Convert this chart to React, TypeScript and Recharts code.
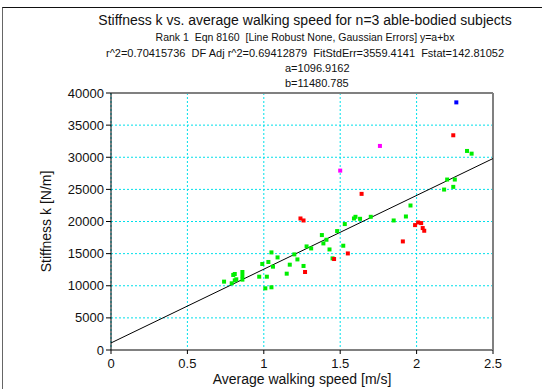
import React from 'react';
import { ScatterChart, Scatter, XAxis, YAxis, CartesianGrid, ReferenceLine } from 'recharts';

// fit coefficients y = a + b*x
const FIT_A = 1096.9162;
const FIT_B = 11480.785;

const xTicks = [0, 0.5, 1, 1.5, 2, 2.5];
const yTicks = [0, 5000, 10000, 15000, 20000, 25000, 30000, 35000, 40000];

const greenSpeed = [0.74, 0.79, 0.80, 0.81, 0.81, 0.82, 0.86, 0.86, 0.86, 0.97, 0.99, 1.02, 1.01, 1.05, 1.03, 1.05, 1.06, 1.09, 1.15, 1.17, 1.20, 1.22, 1.26, 1.28, 1.31, 1.38, 1.41, 1.39, 1.43, 1.45, 1.48, 1.52, 1.53, 1.59, 1.60, 1.63, 1.70, 1.85, 1.93, 1.96, 2.18, 2.20, 2.24, 2.25, 2.33, 2.36];
const greenStiff = [10640, 10380, 11680, 11830, 10840, 11000, 12140, 11520, 10950, 11410, 13390, 11410, 9600, 9760, 13700, 15190, 12970, 14410, 11880, 13280, 14880, 14100, 13080, 16120, 15810, 17890, 17160, 16590, 15650, 14260, 18510, 16230, 19600, 20470, 20730, 20420, 20730, 20160, 20780, 22490, 24970, 26530, 25390, 26530, 30980, 30560];

const redSpeed = [1.24, 1.26, 1.27, 1.46, 1.55, 1.64, 1.91, 1.99, 2.01, 2.03, 2.04, 2.05, 2.24];
const redStiff = [20470, 20160, 12140, 14160, 15030, 24300, 16900, 19440, 19850, 19750, 18980, 18560, 33420];

const magentaSpeed = [1.50, 1.76];
const magentaStiff = [27920, 31760];

const blueSpeed = [2.26];
const blueStiff = [38540];

const toPoints = (xs: number[], ys: number[]) => xs.map((x, i) => ({ x, y: ys[i] }));

const square = (color: string) => (props: any) => (
  <rect x={props.cx - 2} y={props.cy - 2} width={4} height={4} fill={color} />
);

const FONT = '"Liberation Sans", Arial, sans-serif';

export default function App() {
  const lineStyle: React.CSSProperties = {
    position: 'absolute',
    left: 5,
    width: 600,
    textAlign: 'center',
    whiteSpace: 'nowrap',
    fontFamily: FONT,
    color: '#111',
  };
  const coefStyle: React.CSSProperties = {
    position: 'absolute',
    left: 285,
    whiteSpace: 'nowrap',
    fontFamily: FONT,
    color: '#111',
    fontSize: 11,
    lineHeight: '13px',
  };
  return (
    <div style={{ position: 'absolute', left: 0, top: 0, width: 542, height: 389, background: '#fff', overflow: 'hidden' }}>
      <div style={{ position: 'absolute', left: 2, top: 7, width: 540, height: 382, borderTop: '1px solid #111', borderLeft: '1px solid #666' }} />
      <div style={{ ...lineStyle, top: 12, fontSize: 14, lineHeight: '16px' }}>
        Stiffness k vs. average walking speed for n=3 able-bodied subjects
      </div>
      <div style={{ ...lineStyle, top: 31, fontSize: 10.5, lineHeight: '13px' }}>
        Rank 1&nbsp; Eqn 8160&nbsp; [Line Robust None, Gaussian Errors] y=a+bx
      </div>
      <div style={{ ...lineStyle, top: 47, fontSize: 11, lineHeight: '13px' }}>
        r^2=0.70415736&nbsp; DF Adj r^2=0.69412879&nbsp; FitStdErr=3559.4141&nbsp; Fstat=142.81052
      </div>
      <div style={{ ...coefStyle, top: 62 }}>a=1096.9162</div>
      <div style={{ ...coefStyle, top: 77 }}>b=11480.785</div>
      <div style={{ position: 'absolute', left: 0, top: 0 }}>
        <ScatterChart width={542} height={389} margin={{ top: 93, right: 49, bottom: 0, left: 0 }}>
          <CartesianGrid stroke="#00e0ea" strokeDasharray="2 2" />
          <XAxis
            type="number"
            dataKey="x"
            domain={[0, 2.5]}
            ticks={xTicks}
            height={39}
            stroke="#808080"
            strokeWidth={2}
            tickSize={4}
            tickMargin={5}
            tickLine={{ stroke: '#000', strokeWidth: 1 }}
            tick={{ fill: '#111', fontSize: 13, fontFamily: FONT }}
            label={{ value: 'Average walking speed [m/s]', position: 'insideBottom', offset: 5, fill: '#111', fontSize: 14, fontFamily: FONT }}
          />
          <YAxis
            type="number"
            dataKey="y"
            domain={[0, 40000]}
            ticks={yTicks}
            width={111}
            stroke="#000"
            tickSize={5}
            tickMargin={2}
            tick={{ fill: '#111', fontSize: 13, fontFamily: FONT }}
            label={{ value: 'Stiffness k [N/m]', angle: -90, position: 'center', dx: -9, fill: '#111', fontSize: 14, fontFamily: FONT }}
          />
          <ReferenceLine y={40000} stroke="#808080" strokeWidth={2} />
          <ReferenceLine x={2.5} stroke="#808080" strokeWidth={2} />
          <ReferenceLine
            segment={[{ x: 0, y: FIT_A }, { x: 2.5, y: FIT_A + FIT_B * 2.5 }]}
            stroke="#000"
            strokeWidth={1}
          />
          <Scatter data={toPoints(greenSpeed, greenStiff)} shape={square('#00ee00')} isAnimationActive={false} />
          <Scatter data={toPoints(redSpeed, redStiff)} shape={square('#ff0000')} isAnimationActive={false} />
          <Scatter data={toPoints(magentaSpeed, magentaStiff)} shape={square('#ff00ff')} isAnimationActive={false} />
          <Scatter data={toPoints(blueSpeed, blueStiff)} shape={square('#0000ff')} isAnimationActive={false} />
        </ScatterChart>
      </div>
    </div>
  );
}
